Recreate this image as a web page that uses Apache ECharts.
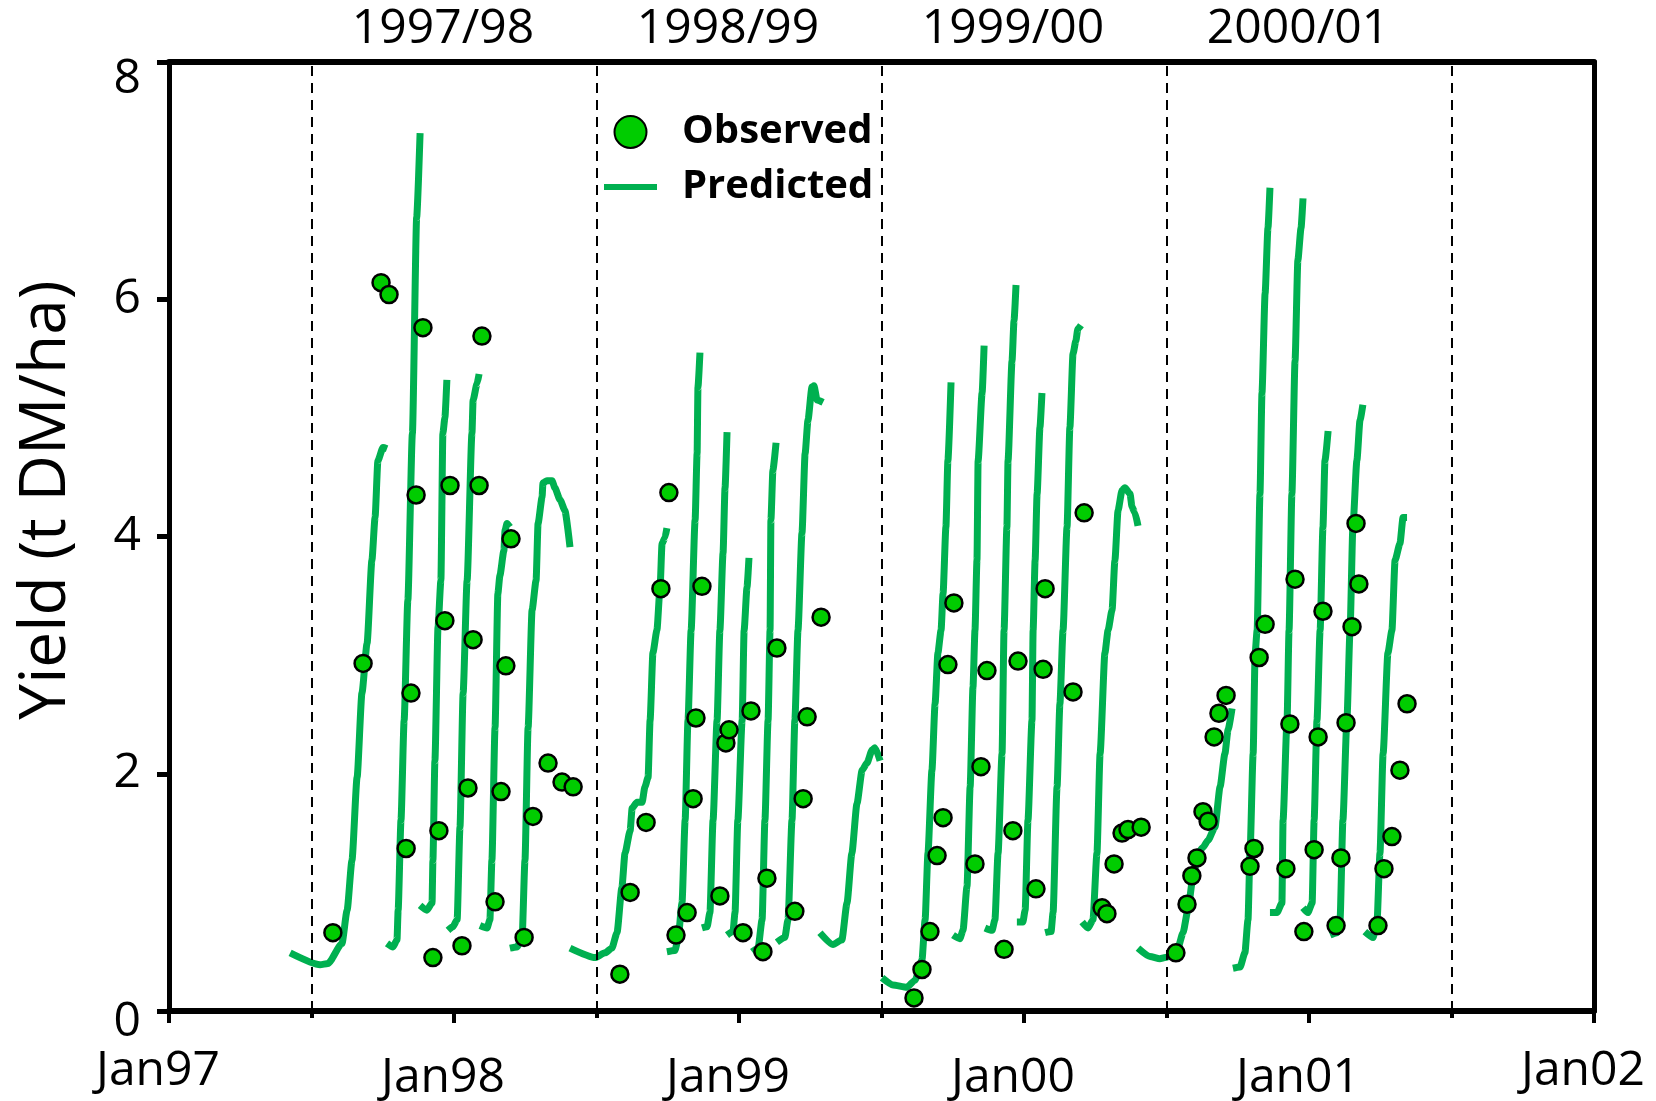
<!DOCTYPE html>
<html>
<head>
<meta charset="utf-8">
<script src="https://cdn.jsdelivr.net/npm/echarts@6/dist/echarts.min.js"></script>
<style>
  html, body { margin: 0; padding: 0; background: #fff; }
  #chart { width: 1656px; height: 1101px; }
</style>
</head>
<body>
<div id="chart"></div>
<script>
// x values are decimal years, y values are yield in t DM/ha

// grazing seasons shown above the plot, centred on the January of each season
const seasonLabels = ['1997/98', '1998/99', '1999/00', '2000/01'];
const seasonYears = [1998, 1999, 2000, 2001];
// boundaries between seasons (dashed lines)
const seasonBreaks = [1997.5, 1998.5, 1999.5, 2000.5, 2001.5];
const yTicks = [0, 2, 4, 6, 8];

// predicted regrowth curves, one list per regrowth cycle
const predicted9798 = [
  [[1997.425,0.49],[1997.530,0.39],[1997.558,0.40],[1997.607,0.57],[1997.625,0.85],[1997.642,1.27],[1997.660,1.97],[1997.677,2.68],[1997.695,3.10],[1997.712,3.80],[1997.723,4.16],[1997.733,4.64],[1997.751,4.75],[1997.765,4.74]],
  [[1997.765,0.57],[1997.786,0.54],[1997.800,0.60],[1997.804,0.85],[1997.814,1.61],[1997.825,2.45],[1997.838,3.46],[1997.854,4.87],[1997.869,6.69],[1997.881,7.40]],
  [[1997.881,0.89],[1997.905,0.85],[1997.923,0.91],[1997.926,1.27],[1997.933,2.11],[1997.944,3.24],[1997.954,3.63],[1997.961,4.87],[1997.968,5.00],[1997.975,5.32]],
  [[1997.979,0.68],[1997.996,0.71],[1998.011,0.77],[1998.021,1.55],[1998.032,2.68],[1998.046,3.63],[1998.063,4.87],[1998.067,5.15],[1998.081,5.29],[1998.088,5.37]],
  [[1998.091,0.72],[1998.116,0.70],[1998.126,0.77],[1998.133,1.27],[1998.144,2.39],[1998.154,3.52],[1998.161,3.67],[1998.175,3.88],[1998.179,4.05],[1998.186,4.11],[1998.196,4.08]],
  [[1998.196,0.53],[1998.221,0.54],[1998.239,0.62],[1998.249,1.27],[1998.260,2.39],[1998.274,3.38],[1998.288,3.63],[1998.295,4.11],[1998.309,4.33],[1998.312,4.45],[1998.326,4.47],[1998.344,4.47],[1998.354,4.41],[1998.372,4.31],[1998.389,4.22],[1998.407,3.91]]
];
const predicted9899 = [
  [[1998.407,0.53],[1998.495,0.45],[1998.530,0.49],[1998.554,0.53],[1998.572,0.66],[1998.589,1.04],[1998.600,1.33],[1998.618,1.52],[1998.625,1.71],[1998.642,1.76],[1998.660,1.76],[1998.670,1.89],[1998.681,1.97],[1998.688,2.45],[1998.698,3.02],[1998.712,3.21],[1998.723,3.57],[1998.730,3.94],[1998.740,3.99],[1998.747,4.07]],
  [[1998.747,0.50],[1998.775,0.51],[1998.786,0.60],[1998.800,0.91],[1998.811,1.61],[1998.821,2.45],[1998.832,3.21],[1998.846,4.14],[1998.853,4.70],[1998.856,5.26],[1998.863,5.55]],
  [[1998.870,0.70],[1998.888,0.71],[1998.898,0.83],[1998.909,1.61],[1998.923,2.45],[1998.933,3.21],[1998.944,3.86],[1998.951,4.41],[1998.958,4.88]],
  [[1998.958,0.64],[1998.979,0.67],[1998.986,0.83],[1998.996,1.61],[1999.011,2.45],[1999.018,3.21],[1999.028,3.57],[1999.035,3.82]],
  [[1999.046,0.50],[1999.067,0.53],[1999.081,0.77],[1999.091,1.61],[1999.102,2.45],[1999.109,3.21],[1999.112,4.14],[1999.119,4.56],[1999.130,4.79]],
  [[1999.133,0.58],[1999.161,0.62],[1999.172,0.77],[1999.186,1.61],[1999.196,2.45],[1999.207,3.21],[1999.221,4.03],[1999.232,4.70],[1999.242,4.98],[1999.256,5.26],[1999.263,5.27],[1999.274,5.15],[1999.295,5.13]],
  [[1999.284,0.66],[1999.330,0.56],[1999.361,0.60],[1999.379,0.91],[1999.396,1.33],[1999.414,1.75],[1999.432,2.03],[1999.449,2.09],[1999.467,2.20],[1999.477,2.22],[1999.495,2.11]]
];
const predicted9900 = [
  [[1999.502,0.28],[1999.540,0.22],[1999.589,0.20],[1999.618,0.26],[1999.642,0.43],[1999.653,0.77],[1999.663,1.33],[1999.677,2.03],[1999.688,2.59],[1999.698,3.02],[1999.709,3.21],[1999.716,3.52],[1999.726,4.08],[1999.733,4.64],[1999.744,5.30]],
  [[1999.751,0.64],[1999.775,0.61],[1999.786,0.68],[1999.800,1.05],[1999.811,1.89],[1999.821,2.73],[1999.828,3.21],[1999.835,3.80],[1999.839,4.64],[1999.853,5.21],[1999.860,5.61]],
  [[1999.863,0.70],[1999.888,0.68],[1999.898,0.77],[1999.909,1.33],[1999.923,2.17],[1999.930,3.21],[1999.940,4.08],[1999.944,4.64],[1999.958,5.48],[1999.965,5.82],[1999.972,6.12]],
  [[1999.975,0.75],[1999.996,0.75],[2000.004,0.85],[2000.014,1.61],[2000.028,2.45],[2000.032,3.21],[2000.039,3.80],[2000.046,4.36],[2000.056,4.92],[2000.063,5.21]],
  [[2000.074,0.66],[2000.095,0.67],[2000.102,0.83],[2000.116,1.89],[2000.126,2.59],[2000.137,3.21],[2000.151,4.08],[2000.161,4.92],[2000.172,5.54],[2000.182,5.65],[2000.189,5.75],[2000.200,5.78]],
  [[2000.204,0.75],[2000.225,0.70],[2000.242,0.77],[2000.256,1.33],[2000.267,2.17],[2000.284,3.02],[2000.295,3.21],[2000.309,3.38],[2000.319,3.80],[2000.330,4.22],[2000.344,4.39],[2000.354,4.41],[2000.372,4.36],[2000.379,4.25],[2000.389,4.20],[2000.400,4.09]]
];
const predicted0001 = [
  [[2000.400,0.53],[2000.442,0.46],[2000.477,0.44],[2000.495,0.45],[2000.519,0.47],[2000.540,0.53],[2000.558,0.66],[2000.575,0.85],[2000.593,1.13],[2000.611,1.33],[2000.628,1.38],[2000.646,1.44],[2000.670,1.55],[2000.688,1.89],[2000.705,2.17],[2000.716,2.37],[2000.730,2.55]],
  [[2000.733,0.36],[2000.758,0.37],[2000.775,0.49],[2000.786,0.77],[2000.793,1.33],[2000.804,2.17],[2000.811,3.02],[2000.818,3.21],[2000.828,4.36],[2000.835,5.21],[2000.846,6.05],[2000.856,6.60],[2000.863,6.94]],
  [[2000.863,0.83],[2000.888,0.83],[2000.905,0.91],[2000.909,1.61],[2000.923,2.45],[2000.930,3.21],[2000.940,4.36],[2000.951,5.48],[2000.961,6.33],[2000.972,6.60],[2000.979,6.85]],
  [[2000.979,0.87],[2000.996,0.83],[2001.011,0.91],[2001.018,1.61],[2001.028,2.45],[2001.039,3.21],[2001.049,4.08],[2001.056,4.64],[2001.067,4.89]],
  [[2001.074,0.64],[2001.098,0.66],[2001.109,0.77],[2001.119,1.61],[2001.133,2.45],[2001.144,3.21],[2001.154,4.08],[2001.168,4.64],[2001.179,4.98],[2001.189,5.11]],
  [[2001.196,0.67],[2001.225,0.62],[2001.239,0.77],[2001.249,1.33],[2001.260,2.17],[2001.277,3.02],[2001.291,3.21],[2001.302,3.80],[2001.319,3.94],[2001.330,4.16],[2001.344,4.16]]
];

// observed yields
const observed9798 = [[1997.575,0.66],[1997.681,2.93],[1997.744,6.14],[1997.772,6.04],[1997.832,1.37],[1997.849,2.68],[1997.867,4.35],[1997.891,5.76],[1997.926,0.45],[1997.947,1.52],[1997.968,3.29],[1997.986,4.43],[1998.028,0.55],[1998.049,1.88],[1998.067,3.13],[1998.088,4.43],[1998.098,5.69],[1998.144,0.92],[1998.165,1.85],[1998.182,2.91],[1998.200,3.98],[1998.246,0.62],[1998.277,1.64],[1998.330,2.09],[1998.379,1.93],[1998.418,1.89]];
const observed9899 = [[1998.582,0.31],[1998.618,1.00],[1998.674,1.59],[1998.726,3.56],[1998.754,4.37],[1998.779,0.64],[1998.818,0.83],[1998.839,1.79],[1998.849,2.47],[1998.870,3.58],[1998.933,0.97],[1998.954,2.26],[1998.965,2.37],[1999.014,0.66],[1999.042,2.53],[1999.084,0.50],[1999.098,1.12],[1999.133,3.06],[1999.196,0.84],[1999.225,1.79],[1999.239,2.48],[1999.288,3.32]];
const observed9900 = [[1999.614,0.11],[1999.642,0.35],[1999.670,0.67],[1999.695,1.31],[1999.716,1.63],[1999.733,2.92],[1999.754,3.44],[1999.828,1.24],[1999.849,2.06],[1999.870,2.87],[1999.930,0.52],[1999.961,1.52],[1999.979,2.95],[2000.042,1.03],[2000.067,2.88],[2000.074,3.56],[2000.172,2.69],[2000.211,4.20],[2000.274,0.87],[2000.291,0.82],[2000.316,1.24],[2000.344,1.50],[2000.365,1.53],[2000.411,1.55]];
const observed0001 = [[2000.533,0.49],[2000.572,0.90],[2000.589,1.14],[2000.607,1.29],[2000.628,1.68],[2000.646,1.60],[2000.667,2.31],[2000.684,2.51],[2000.709,2.66],[2000.793,1.22],[2000.807,1.37],[2000.825,2.98],[2000.846,3.26],[2000.919,1.20],[2000.933,2.42],[2000.951,3.64],[2000.982,0.67],[2001.018,1.36],[2001.032,2.31],[2001.049,3.37],[2001.095,0.72],[2001.112,1.29],[2001.130,2.43],[2001.151,3.24],[2001.165,4.11],[2001.175,3.60],[2001.242,0.72],[2001.263,1.20],[2001.291,1.47],[2001.319,2.03],[2001.344,2.59]];

const FONT = "'Open Sans', sans-serif";
const LINE_GREEN = '#00B050';
const DOT_GREEN = '#00CC00';

const predictedCurves = [].concat(predicted9798, predicted9899, predicted9900, predicted0001);
const observedPoints = [].concat(observed9798, observed9899, observed9900, observed0001);

const lineSeries = predictedCurves.map((curve, i) => {
  const s = {
    name: 'Predicted',
    type: 'line',
    data: curve,
    symbol: 'none',
    showSymbol: false,
    smooth: 0.2,
    smoothMonotone: 'x',
    z: 3,
    lineStyle: { color: LINE_GREEN, width: 7, join: 'round' },
    itemStyle: { color: LINE_GREEN }
  };
  if (i === 0) {
    s.markLine = {
      silent: true,
      symbol: ['none', 'none'],
      label: { show: false },
      lineStyle: { color: '#000', width: 2, type: [10, 7] },
      data: seasonBreaks.map(x => ({ xAxis: x }))
    };
  }
  return s;
});

const chart = echarts.init(document.getElementById('chart'), null, { renderer: 'canvas' });

chart.setOption({
  animation: false,
  backgroundColor: '#fff',
  grid: { left: 169, right: 62, top: 62, bottom: 90, containLabel: false, outerBoundsMode: 'none' },
  legend: {
    data: [
      { name: 'Observed', icon: 'circle' },
      // a flat bar standing for the predicted line
      { name: 'Predicted', icon: 'path://M0,0L53,0L53,6L0,6Z', itemStyle: { color: LINE_GREEN, borderWidth: 0 } }
    ],
    orient: 'vertical',
    left: 604,
    top: 112,
    padding: 0,
    itemWidth: 53,
    itemHeight: 32,
    itemGap: 15,
    symbolKeepAspect: true,
    textStyle: { fontFamily: FONT, fontSize: 40, fontWeight: 'bold', color: '#000', lineHeight: 32, padding: [0, 0, 0, 20] }
  },
  xAxis: [
    {
      type: 'value', min: 1997, max: 2002, interval: 1, position: 'bottom',
      axisLine: { show: true, onZero: false, lineStyle: { color: '#000', width: 6 } },
      axisTick: { show: true, inside: false, length: 12, lineStyle: { color: '#000', width: 4 } },
      minorTick: { show: true, splitNumber: 2, length: 7, lineStyle: { color: '#000', width: 4 } },
      splitLine: { show: false },
      axisLabel: {
        showMinLabel: true, showMaxLabel: true,
        margin: 36,
        padding: [0, 22, 0, 0],
        formatter: v => {
          const txt = 'Jan' + String(v).slice(2);
          return (v === 1997 || v === 2002) ? '{e|' + txt + '}' : '{m|' + txt + '}';
        },
        rich: {
          e: { fontFamily: FONT, fontSize: 48, color: '#000' },
          m: { fontFamily: FONT, fontSize: 48, color: '#000', padding: [7, 0, 0, 0] }
        }
      }
    },
    {
      type: 'value', min: 1997, max: 2002, interval: 1, position: 'top',
      axisLine: { show: true, onZero: false, lineStyle: { color: '#000', width: 6 } },
      axisTick: { show: false },
      splitLine: { show: false },
      axisLabel: {
        showMinLabel: true, showMaxLabel: true,
        margin: 9,
        padding: [0, 22, 0, 0],
        fontFamily: FONT, fontSize: 48, color: '#000',
        formatter: v => {
          const k = seasonYears.indexOf(v);
          return k >= 0 ? seasonLabels[k] : '';
        }
      }
    }
  ],
  yAxis: [
    {
      type: 'value', min: 0, max: 8, interval: 2, position: 'left',
      axisLine: { show: true, onZero: false, lineStyle: { color: '#000', width: 5 } },
      axisTick: { show: true, inside: false, length: 12, lineStyle: { color: '#000', width: 5 } },
      splitLine: { show: false },
      axisLabel: {
        showMinLabel: true, showMaxLabel: true,
        margin: 28,
        formatter: v => {
          if (v === yTicks[yTicks.length - 1]) return '{hi|' + v + '}';
          if (v === yTicks[0]) return '{lo|' + v + '}';
          return '{n|' + v + '}';
        },
        rich: {
          n: { fontFamily: FONT, fontSize: 48, color: '#000' },
          hi: { fontFamily: FONT, fontSize: 48, color: '#000', padding: [34, 0, 0, 0] },
          lo: { fontFamily: FONT, fontSize: 48, color: '#000', padding: [22, 0, 0, 0] }
        }
      }
    },
    {
      type: 'value', min: 0, max: 8, interval: 2, position: 'right',
      axisLine: { show: true, onZero: false, lineStyle: { color: '#000', width: 5 } },
      axisTick: { show: false },
      axisLabel: { show: false },
      splitLine: { show: false }
    }
  ],
  graphic: [
    {
      type: 'text',
      x: 47, y: 500,
      rotation: Math.PI / 2,
      style: {
        text: 'Yield (t DM/ha)',
        fontFamily: FONT, fontSize: 64, fill: '#000',
        align: 'center', verticalAlign: 'middle'
      }
    }
  ],
  series: lineSeries.concat([
    {
      name: 'Observed',
      type: 'scatter',
      data: observedPoints,
      symbol: 'circle',
      symbolSize: 17,
      z: 5,
      itemStyle: { color: DOT_GREEN, borderColor: '#000', borderWidth: 2.5, opacity: 1 }
    }
  ])
});
</script>
</body>
</html>
